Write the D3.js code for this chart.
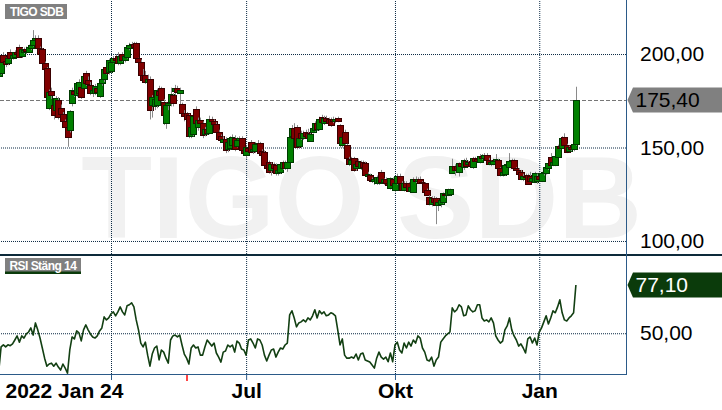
<!DOCTYPE html>
<html><head><meta charset="utf-8">
<script src="https://cdn.jsdelivr.net/npm/d3@7"></script>
<style>
html,body{margin:0;padding:0;background:#fff;}
svg{display:block;font-family:"Liberation Sans",Arial,sans-serif;}
</style>
</head><body>
<svg id="c" width="722" height="410"></svg>
<script>
const title = "TIGO SDB";
const rsiTitle = "RSI Stäng 14";
const startLabel = "2022 Jan 24";
const timeTickIdx = [49, 108, 173, 236];
const timeTickLabels = ["", "Jul", "Okt", "Jan"];
const priceTicks = [100, 150, 200];
const rsiTicks = [50];
const eventIdx = [82];
const lastPrice = 175.40;
const lastRsi = 77.10;

const open = [188,190,199.5,196.5,195,201,198,198.6,201,203.6,
199,201,202.5,201.2,203,204.8,207.5,208.4,203,202.5,
195,192.5,171,180,172.7,170,175.4,171,168,164.3,
161.1,159.4,173.6,180,178.1,179,182.5,182,189.7,186,
183.4,179,179,182,177.5,184.3,186.5,193,190.5,191,
196,198,198.9,195,200,197,198.6,203,205,205.5,
205.7,197.7,195.9,189,189,185,186.5,173,172,172.7,
180,181.6,174.5,163.3,172.7,174.5,178,180.3,182,179,
173.3,168.6,168.6,167.4,156.1,157,170.4,161.1,164.7,163,
157,160,158,165,164,162.6,158.5,156,153,154.4,
149,150,151.3,155,151,154,155.3,148.7,146,150,
153.1,148,148,152,152.4,148,147.8,140.6,142.5,138,
141,140.6,136.2,137,139,142,138.9,142.5,156,160.3,
161.1,151,158,155,158.5,158,153.7,158.5,159.4,163,
159.7,166.5,163,166,165,165,165,164,165.6,162,
151.3,158.5,151.3,144,141,144.2,139,143,139,142,
141.6,135,135.3,132.6,132,130.9,131,137.1,131.7,133,
131,128.2,133,127.3,131,135,131,127.3,131.2,131,
127,126.4,133,132,133.2,131.5,130.9,127.3,123.7,120,
123,122.8,119.3,120,121,125,124.6,125,136.5,140,
140,137.1,141.6,139.4,143,141,142,139.4,144.2,144,
142.5,145.5,144.5,146,143.5,141,141,143,143.3,138.9,
135.3,135.8,140.6,139.4,142.9,143.3,138.9,138,137.1,133,
135,135.3,135,132,131.7,132,135,132.3,136.2,136.2,
138.9,145.1,140.6,140.6,145.1,151,150,155.5,151.3,148.3,
150.4,149,151.9];

const close = [191,198.5,196,194.6,198,197.7,199.5,201.2,200,198.6,
202.5,202,201.5,203.9,205,207.5,208.4,203,200,195.3,
192,177.2,179.7,178,167.4,176.5,166.5,168,164.3,161.1,
155.5,169.3,180.7,178.5,184.3,185,177.2,188,184.3,184,
179,180.5,183,179.5,184.3,186.5,191.8,190,196.8,196,
198,197,195,199,197,199,203.9,205,205.5,204,
197.7,195.5,188.8,186,185,186.5,170,177,176,180.7,
178,175.4,167.4,172.7,174,178.6,174,182,179.5,181,
168.6,167,165.1,156.1,161,167,163,164.7,163,156.7,
160,158,165,164,162.6,158.5,154.4,154,154.4,148.7,
153,155,155.5,149,154,155.3,148.7,147,150.4,148,
147.8,149,152,152.4,147,146,140.6,139,137.1,141,
139,136.2,138,141,142,139,142.5,155.8,160.5,154.9,
150.4,155,155,158,156,155,157.1,160.3,163,160,
165.5,163.8,166,164,163,162,164,165,164.2,152.2,
155.5,152.2,144.2,141,143.5,138,141,140,142,139.5,
135.3,136,132.6,132,133,134.4,134,131.7,133,131,
130,133.5,130,130.9,135,131,127.5,131.2,129,127,
129,133,132,133.2,131,130.9,126.4,124.6,119.8,123,
121,119.3,121,122,125.5,124.6,127.6,127.6,140.1,138,
138,141.6,140,143.3,140,142,140,144.2,143,143,
145.5,144.5,146,143.3,141,142.5,143,143.8,138.9,135.3,
137,140.6,141,142.9,143.3,138.9,138,136,133,135,
134,130.5,132,133.5,136.2,135,133,136.2,137,139.4,
141.6,140.6,142.5,145.5,150.8,150,155,151.3,147.8,150.4,
149,151.9,175.4];

const high = [193,199.5,201,198,199,202.5,200.5,202,203,205,
203,203.5,204,205,206,212.8,210,210,204,203,
196,193,181,182,174,177.5,177,173,169,165,
162,170,182,183,185,186.5,183.5,189,191,188,
185,181,184,183,185,188,192.5,194,197.5,197,
199,200,201,200,201,200,204.5,206,206.5,206.5,
206.5,198,197,192,191,189,188,178,177,181.5,
183,182.5,176,174,176,182,179,183.5,183,182,
174,170,169,168,163,168,172,166,166,164,
161,162,167,166.5,165,163.5,159.5,157,156,155.5,
154,156,157,156.5,155.5,156,156,150,151,151,
154,150,153,154,153,149,148.5,142,143,142,
142,141.5,139,142,143,143,143.5,157,162,163,
162,156,159,159,159.5,160,158,161,164,164,
166.5,167.5,167,167,166,166,166.5,166,166.5,162.5,
156,159.5,152,145,145,145,142,144,143,143,
142.5,137,136,134,134,135,135,138,133.5,134,
132,134,134,131.5,136,136,132,132,132,131.5,
130,134,134.5,134,134.5,132,131.5,128,124.5,124,
124,123.5,122,123,126,127,128,128,144,141,
141,142,143,144,144.5,143,143,145,145,145,
146.5,146.5,147,147,144.5,143,144,146.5,144,139.5,
138,141,142,147,144,144,139.5,139,138,136,
136,136,137,134.5,137,136,136.5,137,138,140,
142,147,143,146,151.5,152,156,157.6,152,151,
151.5,152,182.5];

const low = [186,189,195,193,194,197,197,198,199,198,
198,200,200,200.5,202,204,205,201,199,194,
191,176,170,176,165,169,165,165,163,160,
150.4,158,172,177,177,178,176,182,183,183,
178,177,178,178,176.5,183,185,189,189,190,
195,196,194,194,196,195.5,197.5,202,203.5,203,
196.5,194,186,185,184,182,165,166,170,171,
176,174,162,160,170,172,172,178,178.5,169,
168,164,163,155,155,156,161,159,161,155,
156,157,157,163,161,157,153.5,153,151.5,147,
147.5,149,150,148,150,152,147.5,146,144,147,
147,146.5,147,150,146,145,139.5,137.5,136,135,
138,135,135,136,138,138,137,142,155,154,
149,150,154,154,155,154.5,153,157.5,158.5,159,
159,163,162,163,162.5,161,163,163,163.5,150,
150,151,143,140,140,137,137.5,139,138,138.5,
134.5,134,131.5,131,130,130,130,131,130,130,
129,127.5,129,126,130,130,127,126.5,128.5,126.5,
126,126,131,131,130.5,129.5,125.5,124,119,118.5,
120,109,116,118,120,123,124,124.5,136,135,
137,134.5,139,138,139.5,139.5,139,138.5,142.5,142,
141.5,143.5,144,142.5,140.5,140,140.5,142,138,134.5,
134.5,135,139,139,141,138.5,136.5,135.5,132.5,132,
133.5,130,131.5,131,131,130.5,132,131.5,135,135.5,
138,140,140,140,144.5,149,149.5,150.5,147,147.5,
148,148,151];

const rsi = [29,42.3,43.5,42.3,43.5,43,44,46.2,48.5,45,
48.5,47.3,49.6,50.7,53,49,55.8,51.9,47.3,41.7,
36,31.5,32.7,33.2,31.5,33.2,31,29.3,32.7,30.4,
27.6,40.6,47.9,46.8,51.3,50.2,45.7,51.9,54.7,51.9,
49.6,47.9,47.3,48.5,51.3,53,59.2,57.5,58.6,60.9,
62,59.8,62,64.8,62,60.3,65.4,66,67.1,64.8,
57.5,51.9,44.5,42.3,45,37.7,31.5,38.3,41.7,42.8,
35,40.6,39.4,36,33.2,46.2,48.5,49,47.9,49,
43.4,38.3,36,32.7,41.7,43.4,41.7,42.3,37.7,37.7,
42.3,46.2,44.5,42.8,44.5,38.9,36.6,33.8,39.4,40,
43.4,42.3,43.4,39.4,45.6,44.5,41.1,40.6,37.7,46.2,
46.8,44.5,41.7,46.8,46.2,43.4,37.7,34.4,37.7,40.6,
41.1,36.6,39.4,41.7,41.1,43.4,44.5,60.3,62.6,58.6,
53.6,55.8,56.4,57.5,56.4,58.6,57.5,59.8,63.2,58.6,
62.6,60.9,62,59.8,60.3,61.5,60.9,59.8,51.9,43.4,
46.8,37.7,36,36,36.6,36,38.3,35,38.3,38.9,
35,34.4,33.8,32.1,30.4,36,39.4,36.6,35.5,36.6,
34,38.9,34,43.4,45,40.6,38.9,44.5,41.7,45,
42.8,46.2,44.5,48.5,47.3,41.7,39.4,35,34.4,36.6,
31.5,35,36.6,45,46.8,48.5,49.6,50.7,64.3,62,
63.2,66,64.8,59.8,60.3,65.4,63.2,62,62.6,66,
66,58.6,56.9,57.5,56.4,58.6,55.8,48.5,46.2,44.5,
45.6,51.9,54.1,58.6,51.9,48.5,46.2,42.8,44,41.7,
38.9,46.8,47.9,44.5,47.3,43.4,50.7,53,56.4,59.8,
55.2,58.6,62.6,61.5,64.8,68.8,61.5,57.5,56.9,58.6,
59.8,61.5,77.1];

// ---------- layout ----------
const plotR = 626, priceBot = 254, rsiTop = 256, rsiBot = 374;
const svg = d3.select("#c");
const N = close.length;
const x = d3.scaleLinear().domain([0, N - 1]).range([-1.2, 575.9]);
const y = d3.scaleLinear().domain([92.5, 228.9]).range([255, 0]);
const yr = d3.scaleLinear().domain([27.1, 93.4]).range([374, 256]);
const fmt = d3.formatLocale({decimal: ",", thousands: " ", grouping: [3], currency: ["", ""]}).format(".2f");

svg.append("rect").attr("width", 722).attr("height", 410).attr("fill", "#fff");

const defs = svg.append("defs");
defs.append("clipPath").attr("id", "cp").append("rect").attr("x", 0).attr("y", 0).attr("width", plotR).attr("height", priceBot);
defs.append("clipPath").attr("id", "cr").append("rect").attr("x", 0).attr("y", rsiTop).attr("width", plotR).attr("height", rsiBot - rsiTop);

// watermark
svg.append("text").attr("x", 81.3).attr("y", 238).attr("font-size", 116).attr("font-weight", "bold")
  .attr("fill", "#f1f1f1").text(title);

const dotCol = "#0b2a44";
// horizontal price grid + labels
const pAxis = svg.append("g").attr("transform", `translate(${plotR},0)`)
  .call(d3.axisRight(y).tickValues(priceTicks).tickSize(-plotR).tickPadding(14).tickFormat(fmt));
pAxis.select(".domain").remove();
pAxis.selectAll("line").attr("stroke", dotCol).attr("stroke-dasharray", "1,1");
pAxis.selectAll("text").attr("font-size", 21).attr("fill", "#000").attr("font-family", "Liberation Sans, Arial, sans-serif");

// RSI grid + label
const rAxis = svg.append("g").attr("transform", `translate(${plotR},0)`)
  .call(d3.axisRight(yr).tickValues(rsiTicks).tickSize(-plotR).tickPadding(14).tickFormat(fmt));
rAxis.select(".domain").remove();
rAxis.selectAll("line").attr("stroke", dotCol).attr("stroke-dasharray", "1,1");
rAxis.selectAll("text").attr("font-size", 21).attr("fill", "#000").attr("font-family", "Liberation Sans, Arial, sans-serif");

// vertical grid lines
const vGrid = svg.append("g").attr("transform", `translate(0,${rsiBot})`)
  .call(d3.axisBottom(x).tickValues(timeTickIdx).tickSize(-rsiBot).tickFormat(""));
vGrid.select(".domain").remove();
vGrid.selectAll("line").attr("stroke", dotCol).attr("stroke-dasharray", "1,1");

// last price dashed line
svg.append("line").attr("x1", 0).attr("x2", plotR)
  .attr("y1", Math.round(y(lastPrice)) + 0.5).attr("y2", Math.round(y(lastPrice)) + 0.5)
  .attr("stroke", "#777").attr("stroke-dasharray", "4,2");

// candles
const cg = svg.append("g").attr("clip-path", "url(#cp)");
d3.range(N).forEach(i => {
  const cx = Math.round(x(i));
  const up = close[i] >= open[i];
  const g = cg.append("g");
  g.append("line").attr("x1", cx + 0.5).attr("x2", cx + 0.5)
    .attr("y1", y(high[i])).attr("y2", y(low[i])).attr("stroke", "#8a8a8a").attr("stroke-width", 1);
  const top = Math.round(y(Math.max(open[i], close[i])));
  const bot = Math.round(y(Math.min(open[i], close[i])));
  g.append("rect").attr("x", cx - 2.5).attr("y", top + 0.5).attr("width", 6)
    .attr("height", Math.max(1, bot - top))
    .attr("fill", up ? "#008000" : "#800000")
    .attr("stroke", up ? "#003a00" : "#3a0000").attr("stroke-width", 1);
});

// RSI line
svg.append("g").attr("clip-path", "url(#cr)").append("path")
  .datum(rsi)
  .attr("d", d3.line().x((d, i) => x(i)).y(d => yr(d)))
  .attr("fill", "none").attr("stroke", "#123f12").attr("stroke-width", 1.6).attr("stroke-linejoin", "round");

// borders
svg.append("line").attr("x1", 0).attr("x2", 722).attr("y1", 255).attr("y2", 255)
  .attr("stroke", "#0d2a3a").attr("stroke-width", 2);
svg.append("line").attr("x1", plotR + 0.5).attr("x2", plotR + 0.5).attr("y1", 0).attr("y2", rsiBot + 0.5)
  .attr("stroke", "#2b5a88").attr("stroke-width", 1);
svg.append("line").attr("x1", 0).attr("x2", plotR + 1).attr("y1", rsiBot + 0.5).attr("y2", rsiBot + 0.5)
  .attr("stroke", "#2b5a88").attr("stroke-width", 1);

// bottom axis ticks + labels
const bAxis = svg.append("g").attr("transform", `translate(0,${rsiBot})`)
  .call(d3.axisBottom(x).tickValues(timeTickIdx).tickSize(6).tickPadding(3)
    .tickFormat((d, i) => timeTickLabels[i]));
bAxis.select(".domain").remove();
bAxis.selectAll("line").attr("stroke", "#2b5a88");
bAxis.selectAll("text").attr("font-size", 21).attr("font-weight", "bold").attr("fill", "#000")
  .attr("font-family", "Liberation Sans, Arial, sans-serif");
svg.append("text").attr("x", 5.5).attr("y", 398).attr("font-size", 21).attr("font-weight", "bold")
  .attr("fill", "#000").text(startLabel);

// event marker
eventIdx.forEach(i => {
  svg.append("rect").attr("x", Math.round(x(i)) - 1).attr("y", 375).attr("width", 2).attr("height", 6).attr("fill", "#ff4545");
});

// value boxes
function valueBox(cy, fill, txtFill, label) {
  const t = 627.5, a = 633, h = 12.5;
  svg.append("path").attr("d", `M${t},${cy} L${a},${cy - h} L722,${cy - h} L722,${cy + h} L${a},${cy + h} Z`)
    .attr("fill", fill);
  svg.append("text").attr("x", 635.5).attr("y", cy + 7.3).attr("font-size", 21).attr("fill", txtFill).text(label);
}
valueBox(y(lastPrice), "#808080", "#000", fmt(lastPrice));
valueBox(yr(lastRsi), "#0b3b0b", "#fff", fmt(lastRsi));

// title boxes
svg.append("rect").attr("x", 5).attr("y", 4).attr("width", 62).attr("height", 15).attr("fill", "#808080");
svg.append("text").attr("x", 10).attr("y", 16).attr("font-size", 12).attr("font-weight", "bold")
  .attr("letter-spacing", -0.6).attr("fill", "#fff").text(title);
svg.append("rect").attr("x", 5).attr("y", 258).attr("width", 76).attr("height", 15).attr("fill", "#808080");
svg.append("rect").attr("x", 5).attr("y", 271.5).attr("width", 76).attr("height", 2.5).attr("fill", "#0b3b0b");
svg.append("text").attr("x", 9.5).attr("y", 269.5).attr("font-size", 12).attr("font-weight", "bold")
  .attr("letter-spacing", -0.55).attr("fill", "#fff").text(rsiTitle);
</script>
</body></html>
